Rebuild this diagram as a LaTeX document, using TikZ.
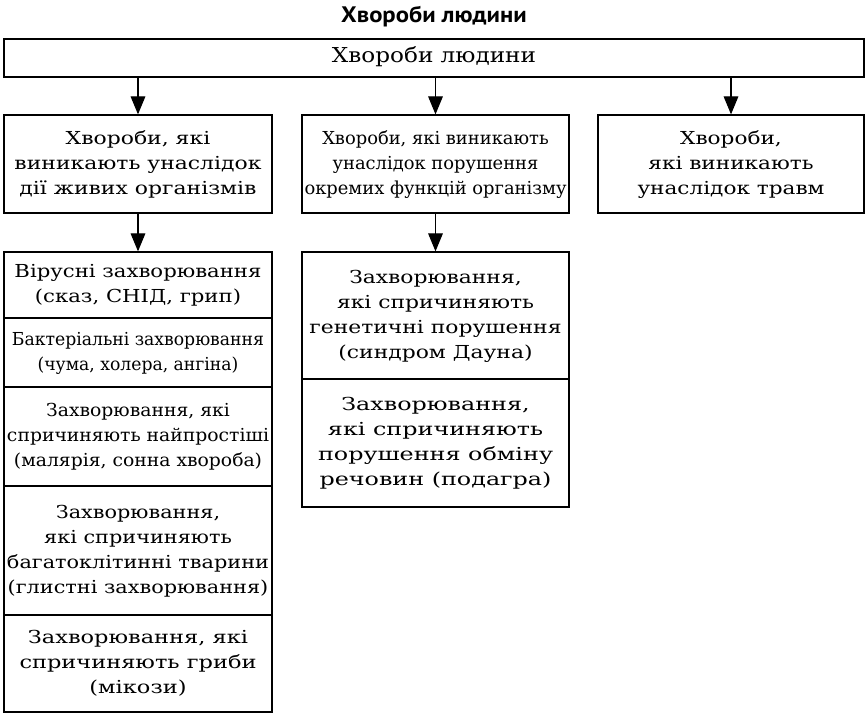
\documentclass[tikz,border=0pt]{standalone}
\usepackage{fontspec}
\usepackage{graphicx}
\setmainfont{DejaVu Serif}
\newfontfamily\headsans[FakeStretch=1.1]{PT Sans}
\usetikzlibrary{arrows.meta}

% one picture pixel
\newdimen\pxunit
\pxunit=0.75pt
% set a centred block of lines to a given width (in px), keeping its height
\newcommand{\fitlines}[2]{\resizebox{#1\pxunit}{\height}{\begin{tabular}{@{}c@{}}#2\end{tabular}}}

\begin{document}
\begin{tikzpicture}[
  x=0.75pt,
  y=-0.75pt,
  line join=miter,
  cellsize/.style 2 args={minimum width=#1*0.75pt,minimum height=#2*0.75pt},
  box/.style={draw=black,line width=0.95pt,inner sep=0pt,
    font=\fontsize{13.4}{18.75}\selectfont},
  rootbox/.style={box,font=\fontsize{15.4}{18.75}\selectfont},
  heading/.style={inner sep=0pt,font=\headsans\bfseries\fontsize{16.8}{20}\selectfont},
  link/.style={draw=black,line width=0.8pt,-{Triangle[length=13.5pt,width=11pt]}}
]
  \useasboundingbox (0,0) rectangle (866,713);

  % Heading and root box.
  \node[heading] (title) at (434,17) {Хвороби людини};
  \node[rootbox,cellsize={860}{38}] (root) at (434,58) {\fitlines{204}{Хвороби людини}};

  % Three main groups.
  \node[box,cellsize={268}{98}] (living) at (138,164)
    {\fitlines{247}{Хвороби, які\\виникають унаслідок\\дії живих організмів}};
  \node[box,cellsize={267}{98}] (functions) at (435.5,164)
    {\fitlines{262}{Хвороби, які виникають\\унаслідок порушення\\окремих функцій організму}};
  \node[box,cellsize={266}{98}] (traumas) at (731,164)
    {\fitlines{187}{Хвороби,\\які виникають\\унаслідок травм}};

  % Left stack: diseases caused by living organisms.
  \node[box,cellsize={268}{66}] (viral) at (138,285)
    {\fitlines{247}{Вірусні захворювання\\(сказ, СНІД, грип)}};
  \node[box,cellsize={268}{69}] (bacterial) at (138,352.5)
    {\fitlines{252}{Бактеріальні захворювання\\(чума, холера, ангіна)}};
  \node[box,cellsize={268}{99}] (protozoa) at (138,436.5)
    {\fitlines{262}{Захворювання, які\\спричиняють найпростіші\\(малярія, сонна хвороба)}};
  \node[box,cellsize={268}{129}] (worms) at (138,550.5)
    {\fitlines{262}{Захворювання,\\які спричиняють\\багатоклітинні тварини\\(глистні захворювання)}};
  \node[box,cellsize={268}{97}] (fungi) at (138,663.5)
    {\fitlines{237}{Захворювання, які\\спричиняють гриби\\(мікози)}};

  % Middle stack: disorders of body functions.
  \node[box,cellsize={267}{127}] (genetic) at (435.5,315.5)
    {\fitlines{252}{Захворювання,\\які спричиняють\\генетичні порушення\\(синдром Дауна)}};
  \node[box,cellsize={267}{128}] (metabolic) at (435.5,443)
    {\fitlines{235}{Захворювання,\\які спричиняють\\порушення обміну\\речовин (подагра)}};

  % Arrows.
  \foreach \n in {living,functions,traumas} {
    \draw[link] (root.south -| \n.north) -- (\n.north);
  }
  \draw[link] (living) -- (viral);
  \draw[link] (functions) -- (genetic);
\end{tikzpicture}
\end{document}
